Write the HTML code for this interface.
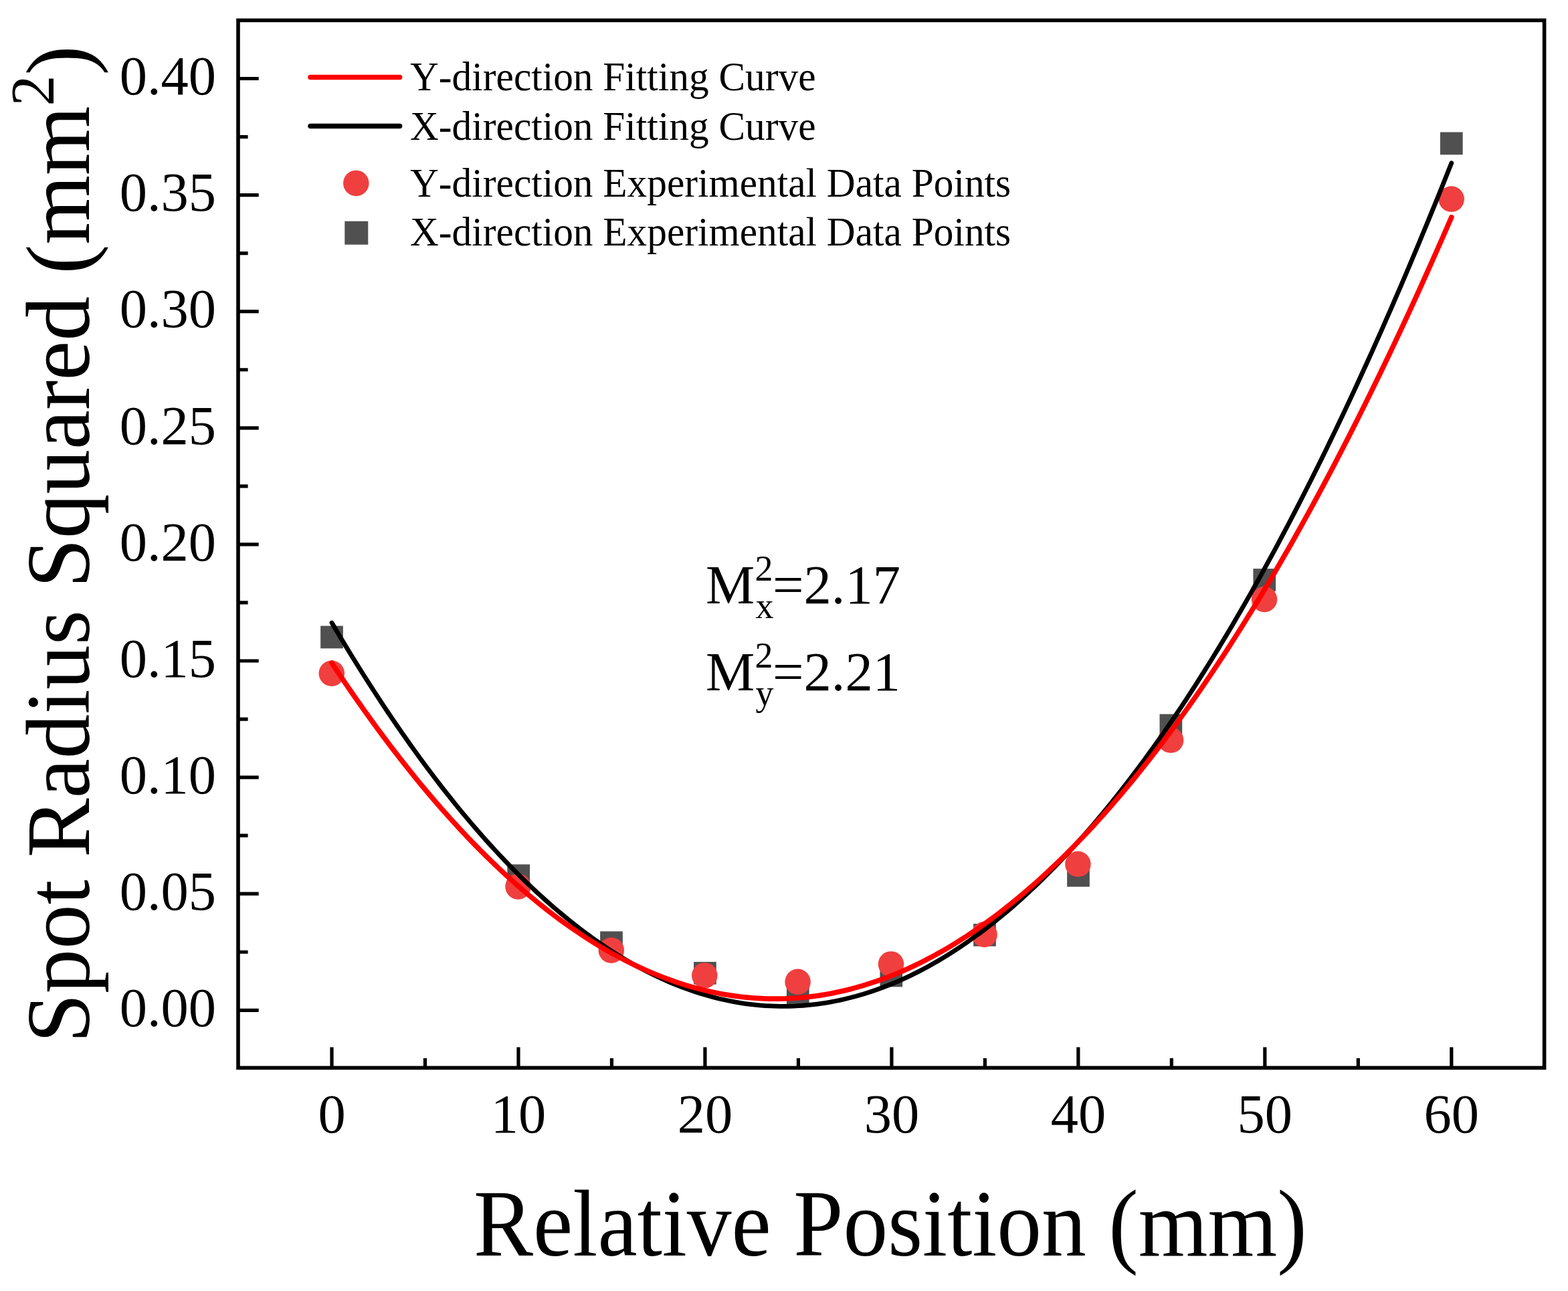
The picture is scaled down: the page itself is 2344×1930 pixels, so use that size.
<!DOCTYPE html>
<html><head><meta charset="utf-8"><title>Spot Radius Squared vs Relative Position</title>
<style>html,body{margin:0;padding:0;background:#fff;}svg{display:block;}
text{font-family:"Liberation Serif","Times New Roman",serif;fill:#000;font-kerning:none;}</style></head>
<body><svg width="2344" height="1930" viewBox="0 0 2344 1930">
<rect width="2344" height="1930" fill="#fff"/>

<path d="M356,1510.30H386.7 M356,1336.20H386.7 M356,1162.10H386.7 M356,988.00H386.7 M356,813.90H386.7 M356,639.80H386.7 M356,465.70H386.7 M356,291.60H386.7 M356,117.50H386.7 M356,1423.25H370.6 M356,1249.15H370.6 M356,1075.05H370.6 M356,900.95H370.6 M356,726.85H370.6 M356,552.75H370.6 M356,378.65H370.6 M356,204.55H370.6 M496.00,1596.4V1565.6 M774.97,1596.4V1565.6 M1053.94,1596.4V1565.6 M1332.91,1596.4V1565.6 M1611.88,1596.4V1565.6 M1890.85,1596.4V1565.6 M2169.82,1596.4V1565.6 M635.49,1596.4V1582.1 M914.45,1596.4V1582.1 M1193.42,1596.4V1582.1 M1472.39,1596.4V1582.1 M1751.37,1596.4V1582.1 M2030.33,1596.4V1582.1" stroke="#000" stroke-width="5.2" fill="none"/>
<rect x="356" y="30.4" width="1952.60" height="1566.00" fill="none" stroke="#000" stroke-width="5.6"/>
<text x="323" y="1534.0" font-size="82.5" text-anchor="end">0.00</text>
<text x="323" y="1359.9" font-size="82.5" text-anchor="end">0.05</text>
<text x="323" y="1185.8" font-size="82.5" text-anchor="end">0.10</text>
<text x="323" y="1011.7" font-size="82.5" text-anchor="end">0.15</text>
<text x="323" y="837.6" font-size="82.5" text-anchor="end">0.20</text>
<text x="323" y="663.5" font-size="82.5" text-anchor="end">0.25</text>
<text x="323" y="489.4" font-size="82.5" text-anchor="end">0.30</text>
<text x="323" y="315.3" font-size="82.5" text-anchor="end">0.35</text>
<text x="323" y="141.2" font-size="82.5" text-anchor="end">0.40</text>
<text x="496.0" y="1692.9" font-size="82.5" text-anchor="middle">0</text>
<text x="775.0" y="1692.9" font-size="82.5" text-anchor="middle">10</text>
<text x="1053.9" y="1692.9" font-size="82.5" text-anchor="middle">20</text>
<text x="1332.9" y="1692.9" font-size="82.5" text-anchor="middle">30</text>
<text x="1611.9" y="1692.9" font-size="82.5" text-anchor="middle">40</text>
<text x="1890.8" y="1692.9" font-size="82.5" text-anchor="middle">50</text>
<text x="2169.8" y="1692.9" font-size="82.5" text-anchor="middle">60</text>
<text transform="translate(1330.9,1876.9) scale(0.9402,1)" x="0" y="0" font-size="142" text-anchor="middle">Relative Position (mm)</text>
<text transform="translate(132.5,813.7) rotate(-90) scale(0.9785,1)" x="0" y="0" font-size="136" text-anchor="middle">Spot Radius Squared (mm<tspan dy="-53" font-size="94">2</tspan><tspan dy="53">)</tspan></text>
<rect x="479.15" y="935.65" width="33.7" height="33.7" fill="#505050"/>
<rect x="758.35" y="1292.25" width="33.7" height="33.7" fill="#505050"/>
<rect x="897.15" y="1392.35" width="33.7" height="33.7" fill="#505050"/>
<rect x="1037.05" y="1437.95" width="33.7" height="33.7" fill="#505050"/>
<rect x="1175.95" y="1467.35" width="33.7" height="33.7" fill="#505050"/>
<rect x="1315.45" y="1441.65" width="33.7" height="33.7" fill="#505050"/>
<rect x="1455.15" y="1380.95" width="33.7" height="33.7" fill="#505050"/>
<rect x="1595.15" y="1291.95" width="33.7" height="33.7" fill="#505050"/>
<rect x="1733.55" y="1067.55" width="33.7" height="33.7" fill="#505050"/>
<rect x="1873.40" y="850.15" width="33.7" height="33.7" fill="#505050"/>
<rect x="2152.95" y="197.55" width="33.7" height="33.7" fill="#505050"/>
<circle cx="495.8" cy="1006.7" r="19.25" fill="#F03F3F"/>
<circle cx="774.5" cy="1325.4" r="19.25" fill="#F03F3F"/>
<circle cx="913.8" cy="1420.7" r="19.25" fill="#F03F3F"/>
<circle cx="1053.3" cy="1458.4" r="19.25" fill="#F03F3F"/>
<circle cx="1192.6" cy="1467.8" r="19.25" fill="#F03F3F"/>
<circle cx="1332" cy="1441.4" r="19.25" fill="#F03F3F"/>
<circle cx="1471.6" cy="1397" r="19.25" fill="#F03F3F"/>
<circle cx="1611.4" cy="1291.8" r="19.25" fill="#F03F3F"/>
<circle cx="1750.15" cy="1106.55" r="19.25" fill="#F03F3F"/>
<circle cx="1890.1" cy="896" r="19.25" fill="#F03F3F"/>
<circle cx="2169.7" cy="297.6" r="19.25" fill="#F03F3F"/>
<path d="M496.00,930.96 L502.97,942.76 L509.95,954.44 L516.92,966.00 L523.90,977.43 L530.87,988.74 L537.85,999.93 L544.82,1011.00 L551.79,1021.94 L558.77,1032.76 L565.74,1043.46 L572.72,1054.04 L579.69,1064.49 L586.67,1074.82 L593.64,1085.02 L600.61,1095.11 L607.59,1105.07 L614.56,1114.91 L621.54,1124.63 L628.51,1134.22 L635.49,1143.69 L642.46,1153.04 L649.43,1162.26 L656.41,1171.37 L663.38,1180.35 L670.36,1189.20 L677.33,1197.94 L684.30,1206.55 L691.28,1215.04 L698.25,1223.40 L705.23,1231.65 L712.20,1239.77 L719.18,1247.77 L726.15,1255.64 L733.12,1263.39 L740.10,1271.02 L747.07,1278.53 L754.05,1285.92 L761.02,1293.18 L768.00,1300.32 L774.97,1307.33 L781.94,1314.23 L788.92,1321.00 L795.89,1327.64 L802.87,1334.17 L809.84,1340.57 L816.82,1346.85 L823.79,1353.01 L830.76,1359.04 L837.74,1364.96 L844.71,1370.74 L851.69,1376.41 L858.66,1381.95 L865.64,1387.37 L872.61,1392.67 L879.58,1397.85 L886.56,1402.90 L893.53,1407.83 L900.51,1412.64 L907.48,1417.32 L914.45,1421.88 L921.43,1426.32 L928.40,1430.64 L935.38,1434.83 L942.35,1438.90 L949.33,1442.85 L956.30,1446.68 L963.27,1450.38 L970.25,1453.96 L977.22,1457.41 L984.20,1460.75 L991.17,1463.96 L998.15,1467.05 L1005.12,1470.02 L1012.09,1472.86 L1019.07,1475.58 L1026.04,1478.18 L1033.02,1480.65 L1039.99,1483.01 L1046.97,1485.23 L1053.94,1487.34 L1060.91,1489.33 L1067.89,1491.19 L1074.86,1492.93 L1081.84,1494.54 L1088.81,1496.04 L1095.79,1497.41 L1102.76,1498.65 L1109.73,1499.78 L1116.71,1500.78 L1123.68,1501.66 L1130.66,1502.42 L1137.63,1503.05 L1144.61,1503.56 L1151.58,1503.95 L1158.55,1504.22 L1165.53,1504.36 L1172.50,1504.38 L1179.48,1504.28 L1186.45,1504.06 L1193.42,1503.71 L1200.40,1503.24 L1207.37,1502.65 L1214.35,1501.93 L1221.32,1501.09 L1228.30,1500.13 L1235.27,1499.05 L1242.24,1497.84 L1249.22,1496.51 L1256.19,1495.06 L1263.17,1493.48 L1270.14,1491.79 L1277.12,1489.97 L1284.09,1488.02 L1291.06,1485.96 L1298.04,1483.77 L1305.01,1481.46 L1311.99,1479.02 L1318.96,1476.47 L1325.94,1473.79 L1332.91,1470.99 L1339.88,1468.06 L1346.86,1465.01 L1353.83,1461.84 L1360.81,1458.55 L1367.78,1455.13 L1374.76,1451.60 L1381.73,1447.93 L1388.70,1444.15 L1395.68,1440.24 L1402.65,1436.21 L1409.63,1432.06 L1416.60,1427.79 L1423.58,1423.39 L1430.55,1418.87 L1437.52,1414.23 L1444.50,1409.46 L1451.47,1404.57 L1458.45,1399.56 L1465.42,1394.43 L1472.39,1389.17 L1479.37,1383.79 L1486.34,1378.29 L1493.32,1372.66 L1500.29,1366.92 L1507.27,1361.05 L1514.24,1355.05 L1521.21,1348.94 L1528.19,1342.70 L1535.16,1336.34 L1542.14,1329.85 L1549.11,1323.25 L1556.09,1316.52 L1563.06,1309.66 L1570.03,1302.69 L1577.01,1295.59 L1583.98,1288.37 L1590.96,1281.03 L1597.93,1273.56 L1604.91,1265.97 L1611.88,1258.26 L1618.85,1250.43 L1625.83,1242.47 L1632.80,1234.39 L1639.78,1226.19 L1646.75,1217.87 L1653.73,1209.42 L1660.70,1200.85 L1667.67,1192.15 L1674.65,1183.34 L1681.62,1174.40 L1688.60,1165.34 L1695.57,1156.15 L1702.55,1146.85 L1709.52,1137.42 L1716.49,1127.87 L1723.47,1118.19 L1730.44,1108.39 L1737.42,1098.47 L1744.39,1088.43 L1751.37,1078.26 L1758.34,1067.98 L1765.31,1057.56 L1772.29,1047.03 L1779.26,1036.37 L1786.24,1025.59 L1793.21,1014.69 L1800.18,1003.67 L1807.16,992.52 L1814.13,981.25 L1821.11,969.86 L1828.08,958.34 L1835.06,946.70 L1842.03,934.94 L1849.00,923.06 L1855.98,911.05 L1862.95,898.92 L1869.93,886.67 L1876.90,874.29 L1883.88,861.79 L1890.85,849.17 L1897.82,836.43 L1904.80,823.56 L1911.77,810.58 L1918.75,797.46 L1925.72,784.23 L1932.70,770.87 L1939.67,757.39 L1946.64,743.79 L1953.62,730.07 L1960.59,716.22 L1967.57,702.25 L1974.54,688.16 L1981.52,673.94 L1988.49,659.60 L1995.46,645.14 L2002.44,630.56 L2009.41,615.85 L2016.39,601.02 L2023.36,586.07 L2030.33,570.99 L2037.31,555.79 L2044.28,540.47 L2051.26,525.03 L2058.23,509.46 L2065.21,493.78 L2072.18,477.96 L2079.15,462.03 L2086.13,445.97 L2093.10,429.79 L2100.08,413.49 L2107.05,397.07 L2114.03,380.52 L2121.00,363.85 L2127.97,347.06 L2134.95,330.14 L2141.92,313.10 L2148.90,295.94 L2155.87,278.66 L2162.85,261.25 L2169.82,243.72" stroke="#000" stroke-width="6.8" fill="none" stroke-linecap="round" stroke-linejoin="round"/>
<path d="M496.00,991.11 L502.97,1001.62 L509.95,1012.02 L516.92,1022.31 L523.90,1032.49 L530.87,1042.55 L537.85,1052.51 L544.82,1062.35 L551.79,1072.08 L558.77,1081.71 L565.74,1091.22 L572.72,1100.61 L579.69,1109.90 L586.67,1119.08 L593.64,1128.14 L600.61,1137.10 L607.59,1145.94 L614.56,1154.67 L621.54,1163.29 L628.51,1171.80 L635.49,1180.20 L642.46,1188.49 L649.43,1196.66 L656.41,1204.73 L663.38,1212.68 L670.36,1220.52 L677.33,1228.25 L684.30,1235.87 L691.28,1243.38 L698.25,1250.78 L705.23,1258.06 L712.20,1265.24 L719.18,1272.30 L726.15,1279.25 L733.12,1286.10 L740.10,1292.83 L747.07,1299.44 L754.05,1305.95 L761.02,1312.35 L768.00,1318.63 L774.97,1324.81 L781.94,1330.87 L788.92,1336.82 L795.89,1342.66 L802.87,1348.39 L809.84,1354.01 L816.82,1359.52 L823.79,1364.91 L830.76,1370.20 L837.74,1375.37 L844.71,1380.44 L851.69,1385.39 L858.66,1390.23 L865.64,1394.95 L872.61,1399.57 L879.58,1404.08 L886.56,1408.47 L893.53,1412.76 L900.51,1416.93 L907.48,1420.99 L914.45,1424.94 L921.43,1428.78 L928.40,1432.51 L935.38,1436.13 L942.35,1439.63 L949.33,1443.03 L956.30,1446.31 L963.27,1449.48 L970.25,1452.54 L977.22,1455.49 L984.20,1458.33 L991.17,1461.06 L998.15,1463.67 L1005.12,1466.18 L1012.09,1468.57 L1019.07,1470.85 L1026.04,1473.03 L1033.02,1475.09 L1039.99,1477.04 L1046.97,1478.87 L1053.94,1480.60 L1060.91,1482.21 L1067.89,1483.72 L1074.86,1485.11 L1081.84,1486.39 L1088.81,1487.56 L1095.79,1488.62 L1102.76,1489.57 L1109.73,1490.41 L1116.71,1491.13 L1123.68,1491.75 L1130.66,1492.25 L1137.63,1492.65 L1144.61,1492.93 L1151.58,1493.10 L1158.55,1493.15 L1165.53,1493.10 L1172.50,1492.94 L1179.48,1492.66 L1186.45,1492.28 L1193.42,1491.78 L1200.40,1491.17 L1207.37,1490.45 L1214.35,1489.62 L1221.32,1488.68 L1228.30,1487.63 L1235.27,1486.46 L1242.24,1485.19 L1249.22,1483.80 L1256.19,1482.30 L1263.17,1480.69 L1270.14,1478.97 L1277.12,1477.14 L1284.09,1475.20 L1291.06,1473.14 L1298.04,1470.98 L1305.01,1468.70 L1311.99,1466.32 L1318.96,1463.82 L1325.94,1461.21 L1332.91,1458.49 L1339.88,1455.65 L1346.86,1452.71 L1353.83,1449.66 L1360.81,1446.49 L1367.78,1443.21 L1374.76,1439.82 L1381.73,1436.32 L1388.70,1432.71 L1395.68,1428.99 L1402.65,1425.16 L1409.63,1421.22 L1416.60,1417.16 L1423.58,1412.99 L1430.55,1408.72 L1437.52,1404.33 L1444.50,1399.83 L1451.47,1395.22 L1458.45,1390.49 L1465.42,1385.66 L1472.39,1380.71 L1479.37,1375.66 L1486.34,1370.49 L1493.32,1365.21 L1500.29,1359.82 L1507.27,1354.32 L1514.24,1348.71 L1521.21,1342.99 L1528.19,1337.15 L1535.16,1331.21 L1542.14,1325.15 L1549.11,1318.98 L1556.09,1312.70 L1563.06,1306.31 L1570.03,1299.81 L1577.01,1293.20 L1583.98,1286.47 L1590.96,1279.64 L1597.93,1272.69 L1604.91,1265.64 L1611.88,1258.47 L1618.85,1251.19 L1625.83,1243.80 L1632.80,1236.29 L1639.78,1228.68 L1646.75,1220.96 L1653.73,1213.12 L1660.70,1205.17 L1667.67,1197.11 L1674.65,1188.94 L1681.62,1180.66 L1688.60,1172.27 L1695.57,1163.77 L1702.55,1155.16 L1709.52,1146.43 L1716.49,1137.59 L1723.47,1128.65 L1730.44,1119.59 L1737.42,1110.42 L1744.39,1101.14 L1751.37,1091.74 L1758.34,1082.24 L1765.31,1072.62 L1772.29,1062.90 L1779.26,1053.06 L1786.24,1043.11 L1793.21,1033.05 L1800.18,1022.88 L1807.16,1012.60 L1814.13,1002.21 L1821.11,991.70 L1828.08,981.09 L1835.06,970.36 L1842.03,959.52 L1849.00,948.57 L1855.98,937.51 L1862.95,926.34 L1869.93,915.06 L1876.90,903.66 L1883.88,892.16 L1890.85,880.54 L1897.82,868.82 L1904.80,856.98 L1911.77,845.03 L1918.75,832.97 L1925.72,820.79 L1932.70,808.51 L1939.67,796.12 L1946.64,783.61 L1953.62,770.99 L1960.59,758.26 L1967.57,745.43 L1974.54,732.47 L1981.52,719.41 L1988.49,706.24 L1995.46,692.96 L2002.44,679.56 L2009.41,666.05 L2016.39,652.44 L2023.36,638.71 L2030.33,624.87 L2037.31,610.92 L2044.28,596.85 L2051.26,582.68 L2058.23,568.39 L2065.21,554.00 L2072.18,539.49 L2079.15,524.87 L2086.13,510.14 L2093.10,495.30 L2100.08,480.35 L2107.05,465.29 L2114.03,450.11 L2121.00,434.83 L2127.97,419.43 L2134.95,403.92 L2141.92,388.30 L2148.90,372.57 L2155.87,356.73 L2162.85,340.78 L2169.82,324.71" stroke="#f00" stroke-width="7.6" fill="none" stroke-linecap="round" stroke-linejoin="round"/>
<line x1="464" y1="115.6" x2="597.6" y2="115.6" stroke="#f00" stroke-width="7.5" stroke-linecap="round"/>
<line x1="464" y1="188.5" x2="597.6" y2="188.5" stroke="#000" stroke-width="7.5" stroke-linecap="round"/>
<circle cx="532.3" cy="273.9" r="19.25" fill="#F03F3F"/>
<rect x="515.3" y="330.7" width="35" height="35" fill="#505050"/>
<text transform="translate(613,134.8) scale(0.973,1)" x="0" y="0" font-size="61">Y-direction Fitting Curve</text>
<text transform="translate(613,208.8) scale(0.973,1)" x="0" y="0" font-size="61">X-direction Fitting Curve</text>
<text transform="translate(613,294.4) scale(0.973,1)" x="0" y="0" font-size="61">Y-direction Experimental Data Points</text>
<text transform="translate(613,366.5) scale(0.973,1)" x="0" y="0" font-size="61">X-direction Experimental Data Points</text>
<text x="1055" y="902.2" font-size="82.5">M</text>
<text x="1128.5" y="867.7" font-size="54">2</text>
<text x="1129.5" y="924.2" font-size="54">x</text>
<text x="1155" y="902.2" font-size="82.5">=2.17</text>
<text x="1055" y="1032.1" font-size="82.5">M</text>
<text x="1128.5" y="997.6" font-size="54">2</text>
<text x="1129.5" y="1054.1" font-size="54">y</text>
<text x="1155" y="1032.1" font-size="82.5">=2.21</text>
</svg></body></html>
